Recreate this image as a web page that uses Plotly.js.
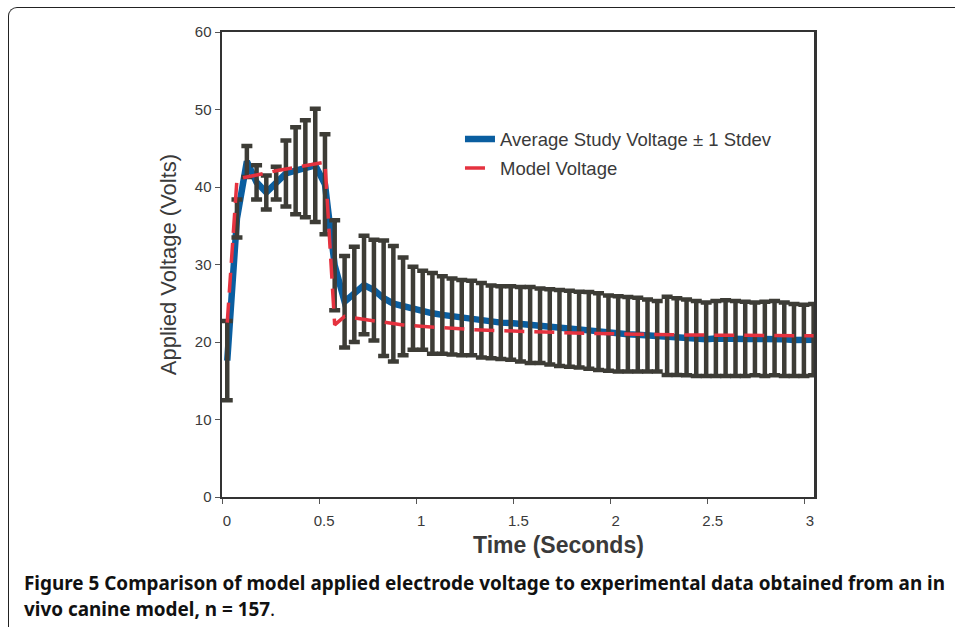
<!DOCTYPE html>
<html>
<head>
<meta charset="utf-8">
<script src="https://cdn.plot.ly/plotly-3.0.1.min.js"></script>
<style>
  html, body { margin: 0; padding: 0; background: #fff; }
  #wrap { position: relative; width: 955px; height: 627px; overflow: hidden; }
  #chart { position: absolute; left: 0; top: 0; width: 955px; height: 627px; }
  #frame { position: absolute; left: 8px; top: 7px; width: 960px; height: 640px;
           border-top: 1.5px solid #222; border-left: 1.5px solid #222;
           border-top-left-radius: 9px; pointer-events: none; }
</style>
</head>
<body>
<div id="wrap">
  <div id="chart"></div>
  <div id="frame"></div>
</div>
<script>
// Time (s) of each sample
const times = [0.027, 0.077, 0.128, 0.178, 0.228, 0.279, 0.329, 0.379, 0.429, 0.480,
  0.530, 0.580, 0.631, 0.681, 0.731, 0.782, 0.832, 0.882, 0.932, 0.983,
  1.033, 1.083, 1.134, 1.184, 1.234, 1.285, 1.335, 1.385, 1.435, 1.486,
  1.536, 1.586, 1.637, 1.687, 1.737, 1.788, 1.838, 1.888, 1.938, 1.989,
  2.039, 2.089, 2.140, 2.190, 2.240, 2.291, 2.341, 2.391, 2.441, 2.492,
  2.542, 2.592, 2.643, 2.693, 2.743, 2.794, 2.844, 2.894, 2.944, 2.995, 3.045];

// Average study voltage (V)
const avgVoltage = [17.6, 35.95, 43.3, 40.6, 39.3, 40.5, 41.75, 42.1, 42.35, 42.8,
  40.35, 29.9, 25.2, 26.15, 27.35, 26.7, 25.65, 24.95, 24.6, 24.35,
  24.1, 23.7, 23.5, 23.3, 23.15, 23.1, 22.8, 22.6, 22.5, 22.45,
  22.3, 22.2, 22.1, 21.95, 21.8, 21.7, 21.6, 21.5, 21.35, 21.15,
  21.05, 21.0, 20.95, 20.85, 20.75, 20.8, 20.7, 20.6, 20.45, 20.35,
  20.45, 20.5, 20.45, 20.4, 20.4, 20.4, 20.5, 20.35, 20.25, 20.2, 20.3];

// +/- 1 standard deviation (V)
const stdevVoltage = [5.1, 2.45, 2.0, 2.2, 2.2, 2.1, 4.25, 5.6, 6.25, 7.3,
  6.45, 5.8, 5.9, 6.15, 6.35, 6.5, 7.45, 7.45, 6.3, 5.35,
  5.1, 5.2, 5.0, 4.9, 4.85, 4.8, 4.8, 4.7, 4.7, 4.75,
  4.8, 4.9, 4.8, 4.85, 4.9, 4.9, 4.9, 4.95, 4.95, 4.85,
  4.85, 4.8, 4.75, 4.65, 4.55, 5.05, 4.95, 4.9, 4.85, 4.75,
  4.85, 4.9, 4.85, 4.8, 4.7, 4.8, 4.8, 4.75, 4.65, 4.6, 4.6];

// Model voltage (V)
const modelVoltage = [22.5, 41.0, 41.3, 41.5, 41.8, 42.1, 42.3, 42.6, 42.8, 43.0,
  43.2, 22.2, 23.3, 23.1, 22.9, 22.7, 22.5, 22.3, 22.2, 22.1,
  22.0, 21.9, 21.8, 21.75, 21.7, 21.6, 21.55, 21.5, 21.45, 21.4,
  21.35, 21.3, 21.25, 21.2, 21.2, 21.15, 21.15, 21.1, 21.1, 21.05,
  21.05, 21.0, 21.0, 21.0, 20.95, 20.95, 20.9, 20.9, 20.9, 20.9,
  20.85, 20.85, 20.85, 20.85, 20.8, 20.8, 20.8, 20.8, 20.8, 20.8, 20.8];

const xTicks = [0, 0.5, 1, 1.5, 2, 2.5, 3];
const xTickText = ['0', '0.5', '1', '1.5', '2', '2.5', '3'];
const yTicks = [0, 10, 20, 30, 40, 50, 60];
const yTickText = ['0', '10', '20', '30', '40', '50', '60'];

const textColor = '#3a3a3a';
const font = 'Liberation Sans, Arial, sans-serif';

const traces = [
  {
    x: times, y: avgVoltage, type: 'scatter', mode: 'lines',
    name: 'Average Study Voltage ± 1 Stdev', legendgroup: 'a',
    line: { color: '#0a5ea0', width: 6.5 }
  },
  {
    x: times, y: avgVoltage, type: 'scatter', mode: 'markers',
    showlegend: false, hoverinfo: 'skip',
    marker: { size: 1, color: 'rgba(0,0,0,0)' },
    error_y: { type: 'data', array: stdevVoltage, visible: true,
               color: '#3d3c36', thickness: 4.5, width: 5.5 }
  },
  {
    x: times, y: modelVoltage, type: 'scatter', mode: 'lines',
    name: 'Model Voltage', legendgroup: 'b',
    line: { color: '#e5323f', width: 3.5, dash: '20px,10px' }
  }
];

const layout = {
  width: 955, height: 627,
  margin: { l: 222, r: 141, t: 32, b: 130 },
  paper_bgcolor: '#ffffff', plot_bgcolor: '#ffffff',
  showlegend: true,
  font: { family: font, color: textColor },
  xaxis: {
    range: [0, 3.047], tickvals: xTicks, ticktext: xTickText,
    ticks: 'outside', ticklen: 5, tickwidth: 1, tickcolor: '#555',
    showline: true, linecolor: '#333', linewidth: 2, mirror: true,
    showgrid: false, zeroline: false,
    tickfont: { family: font, size: 15, color: textColor },
    ticklabelshift: 5, ticklabelstandoff: 4
  },
  yaxis: {
    range: [0, 60], tickvals: yTicks, ticktext: yTickText,
    ticks: 'outside', ticklen: 5, tickwidth: 1, tickcolor: '#555',
    showline: true, linecolor: '#333', linewidth: 2.5, mirror: true,
    showgrid: false, zeroline: false,
    tickfont: { family: font, size: 15, color: textColor },
    title: { text: 'Applied Voltage (Volts)', font: { family: font, size: 22, color: textColor }, standoff: 12 }
  },
  legend: {
    x: 0.402, y: 0.81, xanchor: 'left', yanchor: 'top',
    bgcolor: 'rgba(0,0,0,0)', borderwidth: 0,
    traceorder: 'grouped', tracegroupgap: 2,
    font: { family: font, size: 18.5, color: textColor }
  },
  annotations: [
    {
      xref: 'paper', yref: 'paper', x: (558 - 222) / 592, y: (497 - 545) / 465,
      xanchor: 'center', yanchor: 'middle', showarrow: false,
      text: '<b>Time (Seconds)</b>',
      font: { family: font, size: 23, color: textColor }
    },
    {
      xref: 'paper', yref: 'paper', x: -0.3378, y: -0.185,
      xanchor: 'left', yanchor: 'middle', showarrow: false, align: 'left',
      text: '<b>Figure 5 Comparison of model applied electrode voltage to experimental data obtained from an in</b>',
      font: { family: 'Noto Sans, sans-serif', size: 18.9, color: '#111' }
    },
    {
      xref: 'paper', yref: 'paper', x: -0.3378, y: -0.2409,
      xanchor: 'left', yanchor: 'middle', showarrow: false, align: 'left',
      text: '<b>vivo canine model, n = 157</b>.',
      font: { family: 'Noto Sans, sans-serif', size: 18.9, color: '#111' }
    }
  ]
};

Plotly.newPlot('chart', traces, layout, { staticPlot: true, displayModeBar: false });
</script>
</body>
</html>
